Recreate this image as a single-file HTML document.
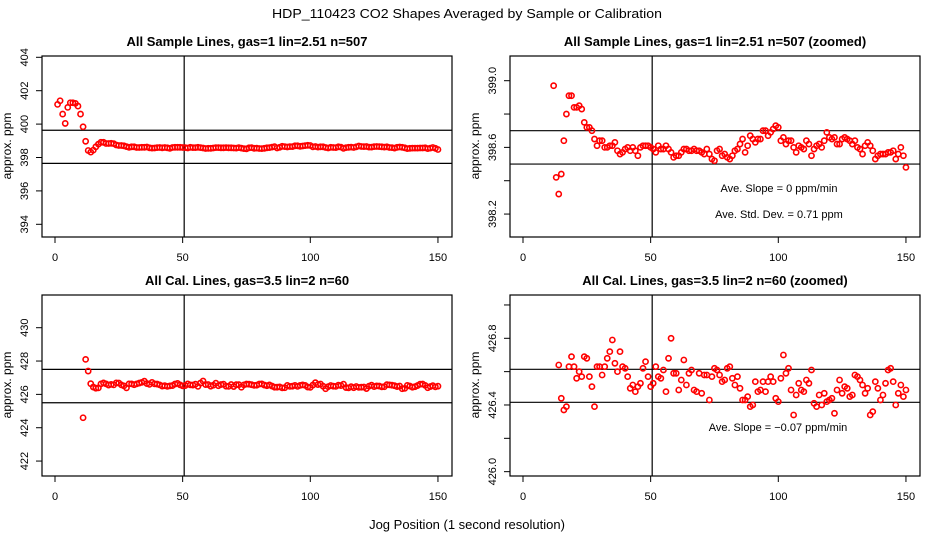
<!DOCTYPE html>
<html><head><meta charset="utf-8"><style>
html,body{margin:0;padding:0;background:#fff;overflow:hidden;width:936px;height:540px}
svg{display:block;font-family:"Liberation Sans",Arial,sans-serif}
</style></head><body>
<svg id="chart" width="936" height="540" viewBox="0 0 936 540" xmlns="http://www.w3.org/2000/svg">
<rect width="936" height="540" fill="#fff"/>
<text x="467" y="18" text-anchor="middle" font-size="13" textLength="390" lengthAdjust="spacingAndGlyphs">HDP_110423  CO2 Shapes Averaged by Sample or Calibration</text>
<text x="467" y="529" text-anchor="middle" font-size="13">Jog Position (1 second resolution)</text>
<g id="panels"></g>
</svg>
<script>
// ---- data ----
const xTicks = [0, 50, 100, 150];
const sampleStart = 1;
const sampleValues = [401.18,401.4,400.6,400.04,401.0,401.28,401.28,401.24,401.08,400.6,399.84,
398.97,398.42,398.32,398.44,398.64,398.80,398.91,398.91,398.84,398.84,398.85,398.83,398.75,398.72,398.72,398.70,398.65,398.61,398.64,
398.64,398.60,398.60,398.61,398.61,398.63,398.58,398.56,398.57,398.59,398.60,398.58,398.60,398.58,398.55,398.60,398.61,398.61,398.61,398.60,
398.59,398.57,398.61,398.59,398.59,398.61,398.59,398.57,398.54,398.55,398.55,398.57,398.59,398.59,398.58,398.58,398.59,398.58,398.58,398.57,
398.56,398.59,398.56,398.53,398.52,398.58,398.59,398.55,398.56,398.54,398.53,398.55,398.58,398.59,398.62,398.65,398.57,398.61,398.67,398.65,
398.63,398.65,398.65,398.70,398.70,398.67,398.69,398.71,398.73,398.72,398.64,398.66,398.62,398.64,398.64,398.60,398.57,398.61,398.60,398.59,
398.64,398.62,398.55,398.59,398.61,398.62,398.60,398.64,398.69,398.66,398.65,398.66,398.62,398.62,398.65,398.66,398.65,398.64,398.62,398.64,
398.60,398.59,398.56,398.61,398.63,398.61,398.58,398.53,398.55,398.56,398.56,398.56,398.57,398.57,398.58,398.53,398.56,398.60,398.55,398.48];
const calStart = 11;
const calValues = [424.6,428.1,427.4,
426.64,426.44,426.37,426.39,426.63,426.69,426.63,426.56,426.60,426.57,426.69,426.68,426.57,426.51,426.39,426.63,426.63,
426.58,426.63,426.68,426.72,426.79,426.65,426.60,426.72,426.63,426.62,426.57,426.50,426.52,426.48,426.51,426.53,426.62,426.66,426.57,426.51,
426.53,426.63,426.57,426.56,426.61,426.48,426.68,426.80,426.59,426.59,426.49,426.55,426.67,426.52,426.59,426.61,426.49,426.48,426.59,426.47,
426.58,426.58,426.43,426.57,426.62,426.61,426.58,426.54,426.55,426.62,426.63,426.56,426.52,426.57,426.50,426.43,426.43,426.45,426.39,426.40,
426.54,426.48,426.49,426.54,426.48,426.54,426.57,426.54,426.44,426.42,426.56,426.70,426.59,426.62,426.49,426.34,426.46,426.53,426.49,426.48,
426.55,426.53,426.61,426.41,426.39,426.46,426.40,426.47,426.42,426.43,426.44,426.35,426.49,426.55,426.47,426.51,426.50,426.45,426.46,426.58,
426.57,426.55,426.52,426.47,426.50,426.34,426.36,426.54,426.50,426.43,426.46,426.53,426.61,426.62,426.54,426.40,426.47,426.52,426.45,426.49];
const tlTicks = [394,396,398,400,402,404];
const trTicks = [398.2,398.4,398.6,398.8,399.0];
const trLabels = ["398.2","","398.6","","399.0"];
const blTicks = [422,424,426,428,430];
const brTicks = [426.0,426.2,426.4,426.6,426.8,427.0];
const brLabels = ["426.0","","426.4","","426.8",""];

// ---- drawing ----
const NS = "http://www.w3.org/2000/svg";
const root = document.getElementById('panels');
function mk(tag, attrs, parent){
  const e = document.createElementNS(NS, tag);
  for (const k in attrs) e.setAttribute(k, attrs[k]);
  (parent||root).appendChild(e); return e;
}
function panel(p){
  const g = mk('g', {});
  
  
  const X = v => p.x0 + v * 2.553;
  const Y = v => p.yRef + (p.vRef - v) * p.k;
  const clipId = p.name + '-clip';
  const cp = mk('clipPath', {id: clipId}, g);
  mk('rect', {x:p.bx, y:p.by, width:410, height:181}, cp);
  const t = mk('text', {x:p.bx+205, y:p.by-10, 'text-anchor':'middle', 'font-size':13, 'font-weight':'bold'}, g);
  t.textContent = p.title;
  
  
  const yl = mk('text', {x:0, y:0, 'text-anchor':'middle', 'font-size':12, transform:`translate(${p.bx-31},${p.by+90}) rotate(-90)`}, g);
  yl.textContent = 'approx. ppm';
  
  
  xTicks.forEach(v => {
    const l = mk('line', {x1:X(v), x2:X(v), y1:p.by+181, y2:p.by+187, stroke:'#000'}, g);
    
    
    if (p.xLabels){
      const tx = mk('text', {x:X(v), y:p.by+205, 'text-anchor':'middle', 'font-size':11}, g);
      tx.textContent = String(v);
      
      
    }
  });
  p.yTicks.forEach((v, i) => {
    const y = Y(v);
    const l = mk('line', {x1:p.bx-6, x2:p.bx, y1:y, y2:y, stroke:'#000'}, g);
    
    
    const lab = p.yLabels ? p.yLabels[i] : String(v);
    if (lab){
      const ty = mk('text', {x:0, y:0, 'text-anchor':'middle', 'font-size':11, transform:`translate(${p.bx-14},${y}) rotate(-90)`}, g);
      ty.textContent = lab;
      
      
    }
  });
  p.hLines.forEach(v => {
    const l = mk('line', {x1:p.bx, x2:p.bx+410, y1:Y(v), y2:Y(v), stroke:'#000', 'stroke-width':1.2}, g);
    
    
  });
  const vl = mk('line', {x1:X(50.6), x2:X(50.6), y1:p.by, y2:p.by+181, stroke:'#000', 'stroke-width':1.2}, g);
  
  
  const pg = mk('g', {'clip-path':`url(#${clipId})`}, g);
  p.values.forEach((v, i) => {
    const c = mk('circle', {cx:X(p.start + i), cy:Y(v), r:2.6, fill:'none', stroke:'#f00', 'stroke-width':1.6}, pg);
    
    
  });
  (p.notes||[]).forEach(n => {
    const tn = mk('text', {x:n[0], y:n[1], 'text-anchor':'middle', 'font-size':11}, g);
    tn.textContent = n[2];
    
    
  });
  const b = mk('rect', {x:p.bx, y:p.by, width:410, height:181, fill:'none', stroke:'#000', 'stroke-width':1.2}, g);
  
  
}
panel({name:'sample-panel', title:'All Sample Lines, gas=1 lin=2.51 n=507', bx:42, by:56, x0:55,
  yRef:57.3, vRef:404, k:16.7, yTicks:tlTicks, hLines:[399.63,397.65],
  values:sampleValues, start:sampleStart, xLabels:true});
panel({name:'sample-zoomed-panel', title:'All Sample Lines, gas=1 lin=2.51 n=507 (zoomed)', bx:510, by:56, x0:523,
  yRef:80.7, vRef:399.0, k:166.7, yTicks:trTicks, yLabels:trLabels, hLines:[398.70,398.50],
  values:sampleValues, start:sampleStart, xLabels:true,
  notes:[[779,192,'Ave. Slope =  0  ppm/min'],[779,218,'Ave. Std. Dev. =  0.71  ppm']]});
panel({name:'cal-panel', title:'All Cal. Lines, gas=3.5 lin=2 n=60', bx:42, by:295, x0:55,
  yRef:327.7, vRef:430, k:16.67, yTicks:blTicks, hLines:[427.5,425.5],
  values:calValues, start:calStart, xLabels:true});
panel({name:'cal-zoomed-panel', title:'All Cal. Lines, gas=3.5 lin=2 n=60 (zoomed)', bx:510, by:295, x0:523,
  yRef:338.3, vRef:426.8, k:166.7, yTicks:brTicks, yLabels:brLabels, hLines:[426.614,426.416],
  values:calValues, start:calStart, xLabels:true,
  notes:[[778,431,'Ave. Slope =  \u22120.07  ppm/min']]});
</script>
</body></html>
